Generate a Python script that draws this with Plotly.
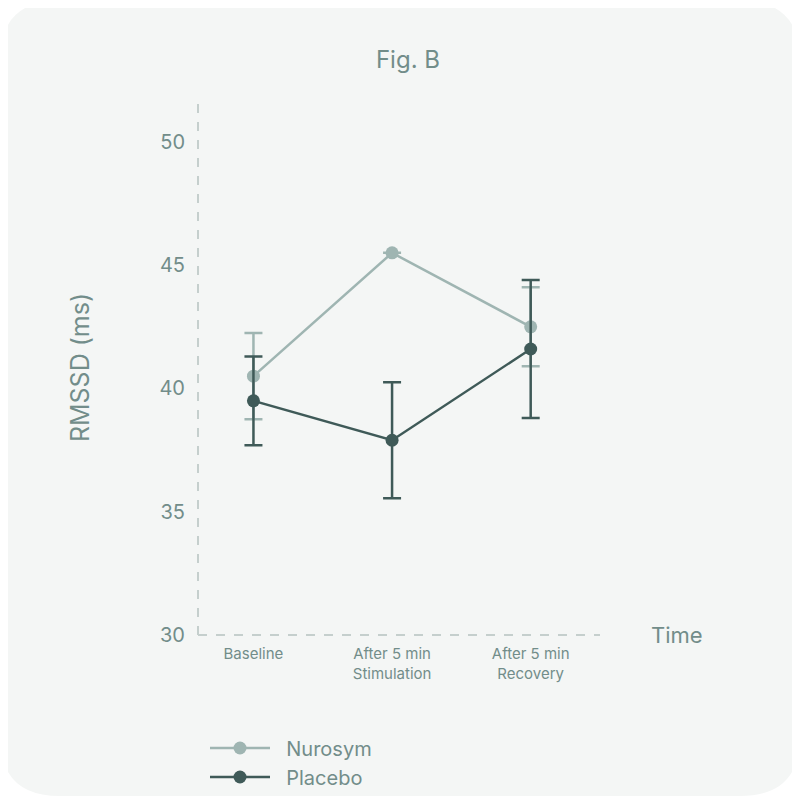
import plotly.graph_objects as go

categories = ["Baseline", "After 5 min<br>Stimulation", "After 5 min<br>Recovery"]
nurosym = [40.5, 45.5, 42.5]
nurosym_err = [1.75, 0, 1.6]
placebo = [39.5, 37.9, 41.6]
placebo_err = [1.8, 2.35, 2.8]

light = "#9fb5b2"
dark = "#3f5a58"
txt = "#728d8a"

fig = go.Figure()
fig.add_trace(go.Scatter(x=categories, y=nurosym, name="  Nurosym", mode="lines+markers",
                         line=dict(color=light, width=2.5), marker=dict(size=13, color=light),
                         error_y=dict(type="data", array=nurosym_err, color=light, thickness=2.5, width=9)))
fig.add_trace(go.Scatter(x=categories, y=placebo, name="  Placebo", mode="lines+markers",
                         line=dict(color=dark, width=2.5), marker=dict(size=13, color=dark),
                         error_y=dict(type="data", array=placebo_err, color=dark, thickness=2.5, width=9)))

# page is drawn with ~8px offset, compensate
OFF = 8
L, R, T, B = 198 - OFF, 200 + OFF, 100 - OFF, 162 + OFF
W, H = 800 - L - R, 800 - T - B

def px(x, y):
    return (x - OFF - L) / W, (800 - B - (y - OFF)) / H

def card(x0, y0, x1, y1, r):
    def p(x, y):
        a, b = px(x, y)
        return f"{a:.4f},{b:.4f}"
    return (f"M{p(x0 + r, y0)} L{p(x1 - r, y0)} Q{p(x1, y0)} {p(x1, y0 + r)} "
            f"L{p(x1, y1 - r)} Q{p(x1, y1)} {p(x1 - r, y1)} L{p(x0 + r, y1)} "
            f"Q{p(x0, y1)} {p(x0, y1 - r)} L{p(x0, y0 + r)} Q{p(x0, y0)} {p(x0 + r, y0)} Z")

fig.add_shape(type="path", xref="paper", yref="paper", path=card(0, 0, 800, 800, 60),
              fillcolor="#f4f6f5", line=dict(width=0), layer="below")
fig.add_shape(type="line", xref="paper", yref="paper", x0=0, x1=0, y0=0, y1=1,
              line=dict(color="#c5cfcd", width=2, dash="dash"))
fig.add_shape(type="line", xref="paper", yref="paper", x0=0, x1=1, y0=0, y1=0,
              line=dict(color="#c5cfcd", width=2, dash="dash"))

fig.add_annotation(text="Time", xref="paper", yref="paper", x=px(677, 0)[0], y=0,
                   showarrow=False, font=dict(size=22, color=txt), xanchor="center", yanchor="middle")

fig.update_layout(
    width=800, height=800,
    margin=dict(l=L, r=R, t=T, b=B),
    paper_bgcolor="white", plot_bgcolor="rgba(0,0,0,0)",
    font=dict(family="Inter, Roboto, sans-serif", color=txt),
    title=dict(text="Fig. B", x=0.5, xanchor="center", y=1 - 52 / 800, yanchor="middle",
               font=dict(size=24, color=txt)),
    xaxis=dict(range=[-0.4, 2.5], showgrid=False, zeroline=False, showline=False,
               tickfont=dict(size=15, color=txt), ticks="", ticklabelstandoff=8),
    yaxis=dict(range=[30, 51.7], tickvals=[30, 35, 40, 45, 50], showgrid=False, zeroline=False,
               showline=False, tickfont=dict(size=20, color=txt), ticklabelstandoff=12,
               title=dict(text="RMSSD (ms)", font=dict(size=25, color=txt), standoff=62)),
    showlegend=True,
    legend=dict(orientation="h", x=px(205, 0)[0], xanchor="left", y=px(0, 732)[1], yanchor="top",
                font=dict(size=20, color=txt), entrywidth=230, entrywidthmode="pixels",
                itemwidth=60, bgcolor="rgba(0,0,0,0)"),
)
fig.write_html("out.html")
